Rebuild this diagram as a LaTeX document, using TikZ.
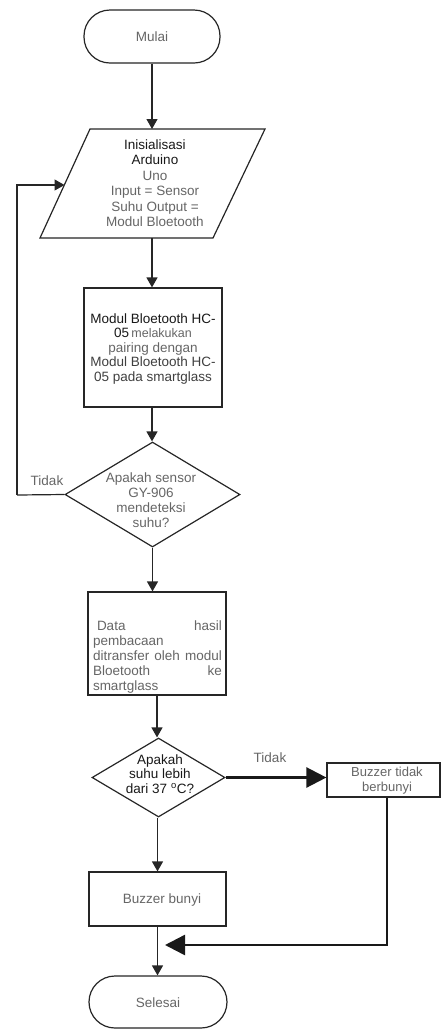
\documentclass[tikz,border=0pt]{standalone}
\usepackage{fontspec}
\setmainfont{Liberation Sans}
\usetikzlibrary{shapes.geometric,arrows.meta}
\begin{document}
\begin{tikzpicture}[x=1pt,y=-1pt,
  box/.style={draw=black!85, line width=1.2pt, fill=white, inner sep=0pt},
  term/.style={box, rounded corners=26pt},
  dia/.style={box, diamond},
  arr/.style={draw=black!85, line width=1.2pt, -{Triangle[length=10pt,width=11pt]}},
  bigarr/.style={draw=black!90, line width=2.5pt, -{Triangle[length=20pt,width=20pt]}},
  plain/.style={draw=black!85, line width=1.2pt},
  txt/.style={font=\fontsize{13.5}{15.5}\selectfont, text=black!60, align=center, inner sep=0pt},
  dark/.style={text=black!90}
]
\useasboundingbox (0,0) rectangle (441,1029);

% shapes
\node[term, minimum width=136pt, minimum height=53pt] (mulai) at (152,36.5) {};
\node[txt] (mulaitxt) at (152,37) {Mulai};

\coordinate (pTL) at (90,129);
\coordinate (pTR) at (265,129);
\coordinate (pBR) at (213,238);
\coordinate (pBL) at (40,238);
\coordinate (pTop) at (152,129);
\coordinate (pBot) at (152,238);
\coordinate (pW) at (64.5,185);
\draw[box] (pTL) -- (pTR) -- (pBR) -- (pBL) -- cycle;
\node[txt] (paratxt) at (155,183) {{\color{black!90}Inisialisasi}\\{\color{black!90}Arduino}\\Uno\\Input = Sensor\\Suhu Output =\\Modul Bloetooth};

\node[box, minimum width=138pt, minimum height=119pt] (pair) at (153,347.5) {};
\node[txt, font=\fontsize{13.5}{14.5}\selectfont] (pairtxt) at (153,349) {{\color{black!90}Modul Bloetooth HC-}\\{\color{black!90}05}\,{\fontsize{12.5}{14.5}\selectfont melakukan}\\pairing dengan\\{\color{black!75}Modul Bloetooth HC-}\\{\color{black!75}05 pada smartglass}};

\node[dia, minimum width=175pt, minimum height=105pt] (dec1) at (152.5,494.5) {};
\node[txt, font=\fontsize{13.5}{15}\selectfont] (dec1txt) at (151,500) {Apakah sensor\\GY-906\\mendeteksi\\suhu?};
\node[txt] (tidak1) at (47,481) {Tidak};

\node[box, minimum width=138pt, minimum height=103pt] (data) at (157,643.5) {};
\node[txt, align=left, text width=129pt, font=\fontsize{13.5}{15}\selectfont] (datatxt) at (157.5,657) {\hspace{4pt}Data\hfill hasil\\pembacaan\\ditransfer\hfill oleh\hfill modul\\Bloetooth\hfill ke\\smartglass};

\node[dia, minimum width=133pt, minimum height=79pt] (dec2) at (158.5,777.5) {};
\node[txt, dark, font=\fontsize{13.5}{14.5}\selectfont] (dec2txt) at (160,774) {Apakah\\suhu lebih\\dari 37 \textsuperscript{o}C?};
\node[txt] (tidak2) at (270,758) {Tidak};

\node[box, minimum width=113pt, minimum height=34pt] (bt) at (383.5,780) {};
\node[txt, font=\fontsize{13}{15}\selectfont] (bttxt) at (387,781) {Buzzer tidak\\berbunyi};

\node[box, minimum width=137pt, minimum height=54pt] (bb) at (157.5,899) {};
\node[txt] (bbtxt) at (162,900) {Buzzer bunyi};

\node[term, minimum width=138pt, minimum height=52pt] (selesai) at (158,1002) {};
\node[txt] (selesaitxt) at (158,1003) {Selesai};

% connectors
\coordinate (loopc) at (17,495);
\coordinate (mergec) at (165,945);
\coordinate (mergel) at (387,945);

\draw[arr] (mulai.south) -- (pTop);
\draw[arr] (pBot) -- (pBot |- pair.north);
\draw[arr] (pair.south -| mulai.south) -- (mulai.south |- dec1.north);
\draw[plain] (dec1.west) -- (loopc);
\draw[arr] (loopc) |- (pW);
\draw[arr] (dec1.south) -- (dec1.south |- data.north);
\draw[arr] (data.south) -- (data.south |- dec2.north);
\draw[bigarr] (dec2.east) -- (dec2.east -| bt.west);
\draw[arr] (dec2.south -| bb.north) -- (bb.north);
\draw[arr] (bb.south) -- (bb.south |- selesai.north);
\draw[bigarr] (bt.south -| mergel) -- (mergel) -- (mergec);
\end{tikzpicture}
\end{document}
